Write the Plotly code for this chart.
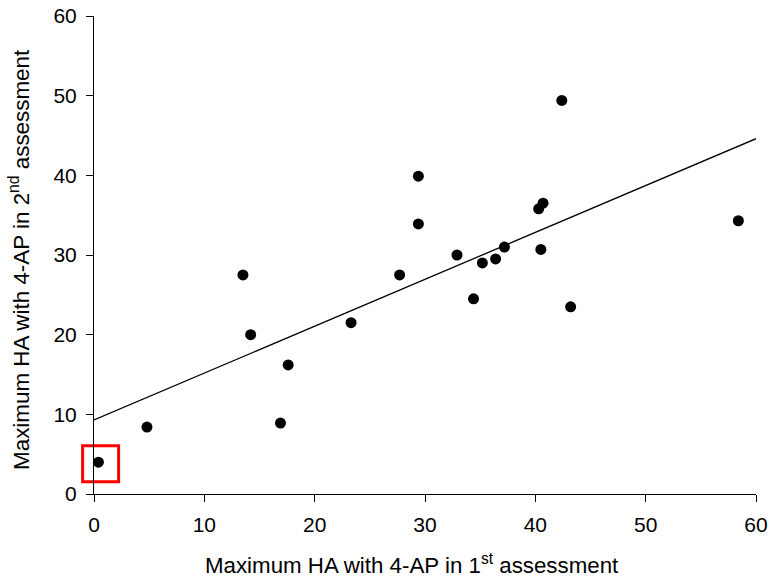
import plotly.graph_objects as go

# Data
first_assessment = [0.4, 4.8, 13.5, 14.2, 16.9, 17.6, 23.3, 27.7, 29.4, 29.4,
                    32.9, 34.4, 35.2, 36.4, 37.2, 40.3, 40.7, 40.5, 42.4, 43.2, 58.4]
second_assessment = [4.0, 8.4, 27.5, 20.0, 8.9, 16.2, 21.5, 27.5, 39.9, 33.9,
                     30.0, 24.5, 29.0, 29.5, 31.0, 35.8, 36.5, 30.7, 49.4, 23.5, 34.3]

# Regression line endpoints
fit_x = [0, 60]
fit_y = [9.3, 44.6]

# Highlight box centre
highlight_x = [0.6]
highlight_y = [3.8]

tick_vals = [0, 10, 20, 30, 40, 50, 60]
x_title = "Maximum HA with 4-AP in 1<sup>st</sup> assessment"
y_title = "Maximum HA with 4-AP in 2<sup>nd</sup> assessment"

fig = go.Figure()
fig.add_trace(go.Scatter(x=fit_x, y=fit_y, mode="lines",
                         line=dict(color="black", width=1.3), showlegend=False))
fig.add_trace(go.Scatter(x=first_assessment, y=second_assessment, mode="markers",
                         marker=dict(color="black", size=11), cliponaxis=False,
                         showlegend=False))
fig.add_trace(go.Scatter(x=highlight_x, y=highlight_y, mode="markers",
                         marker=dict(symbol="square-open", size=36,
                                     color="red", line=dict(color="red", width=3)),
                         cliponaxis=False, showlegend=False))

family = "Liberation Sans, Arial, sans-serif"
font = dict(family=family, size=21, color="black")
axis_common = dict(range=[0, 60], tickvals=tick_vals, showgrid=False, zeroline=False,
                   showline=True, linecolor="black", linewidth=1,
                   ticks="outside", ticklen=7, tickcolor="black", tickwidth=1,
                   tickfont=font, automargin=False, ticklabelstandoff=5,
                   ticklabeloverflow="allow")

fig.update_layout(
    width=769, height=581,
    margin=dict(l=94, r=13, t=16, b=87),
    paper_bgcolor="white", plot_bgcolor="white",
    font=font,
    xaxis=axis_common,
    yaxis=axis_common,
    annotations=[
        dict(text=x_title, xref="paper", yref="paper", x=0.48, y=0,
             xanchor="center", yanchor="middle", yshift=-70, showarrow=False,
             font=dict(family=family, size=22.3, color="black")),
        dict(text=y_title, xref="paper", yref="paper", x=-0.113, y=0.49,
             xanchor="center", yanchor="middle", textangle=-90, showarrow=False,
             font=dict(family=family, size=22.4, color="black")),
    ],
)

fig.write_html("out.html", config={"displayModeBar": False},
               post_script="document.body.style.margin='0';")
